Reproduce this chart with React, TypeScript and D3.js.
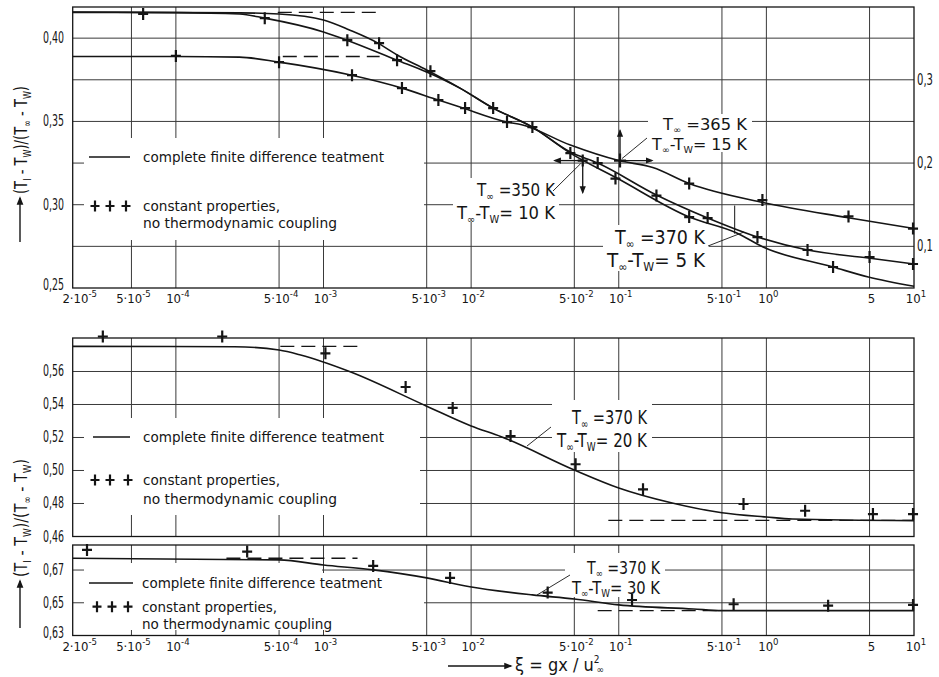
import React from 'react';
import * as d3 from 'd3';

const FONT = "'DejaVu Sans Condensed', 'Liberation Sans Narrow', 'DejaVu Sans', sans-serif";
const INK = '#151515';

// x axis: xi = g x / u_inf^2 (log)
const xTickVals = [2e-5, 5e-5, 1e-4, 5e-4, 1e-3, 5e-3, 1e-2, 5e-2, 1e-1, 5e-1, 1, 5, 10];
const xTickMant = ['2·10', '5·10', '10', '5·10', '10', '5·10', '10', '5·10', '10', '5·10', '10', '5', '10'];
const xTickExp = ['-5', '-5', '-4', '-4', '-3', '-3', '-2', '-2', '-1', '-1', '0', '', '1'];
const xGridVals = [5e-5, 1e-4, 5e-4, 1e-3, 5e-3, 1e-2, 5e-2, 1e-1, 5e-1, 1, 5];

// top panel: three cases
const topYTicks = [0.25, 0.30, 0.35, 0.40];
const topYGrid = [0.275, 0.30, 0.325, 0.35, 0.375, 0.40];
const topRightTicks = [0.1, 0.2, 0.3];
const topCurve365 = [[2e-5, 0.389], [1e-4, 0.389], [2.7e-4, 0.3886], [5e-4, 0.3856], [1.5e-3, 0.378], [3.4e-3, 0.370], [6e-3, 0.3628], [8.4e-3, 0.3586], [1.75e-2, 0.3496], [2.2e-2, 0.348], [4.7e-2, 0.3358], [0.1, 0.3265], [0.17, 0.3223], [0.3, 0.3127], [0.95, 0.3013], [3.5, 0.2923], [10, 0.2857]];
const topCurve350 = [[2e-5, 0.4157], [2.7e-4, 0.4152], [5e-4, 0.4145], [1e-3, 0.4109], [1.5e-3, 0.4049], [2.34e-3, 0.397], [3.15e-3, 0.3899], [5e-3, 0.3809], [8.4e-3, 0.370], [1.41e-2, 0.358], [2.6e-2, 0.3466], [4.7e-2, 0.3316], [7.2e-2, 0.325], [0.18, 0.3058], [0.4, 0.292], [0.87, 0.2806], [1.9, 0.2728], [4.9, 0.268], [10, 0.2644]];
const topCurve370 = [[2e-5, 0.4155], [1e-4, 0.4153], [2.7e-4, 0.4145], [4e-4, 0.412], [1e-3, 0.4037], [1.44e-3, 0.3988], [3.15e-3, 0.3868], [5e-3, 0.3797], [8.4e-3, 0.370], [1.41e-2, 0.358], [2.6e-2, 0.3466], [4.7e-2, 0.331], [9.7e-2, 0.316], [0.3, 0.2926], [0.63, 0.283], [0.95, 0.2746], [2.83, 0.2626], [4.9, 0.2566], [10, 0.251]];
const topDashes = [[4.9e-4, 2.4e-3, 0.4155], [5.3e-4, 2.4e-3, 0.389]];
const topMarks = [[6e-5, 0.4145], [4e-4, 0.412], [1e-4, 0.3893], [5e-4, 0.3856], [1.45e-3, 0.3988], [2.38e-3, 0.397], [3.15e-3, 0.3868], [5.3e-3, 0.3802], [1.56e-3, 0.3778], [3.4e-3, 0.370], [6e-3, 0.3628], [9.1e-3, 0.358], [1.41e-2, 0.358], [1.75e-2, 0.3496], [2.6e-2, 0.3466], [4.7e-2, 0.331], [7.2e-2, 0.325], [9.5e-2, 0.3157], [0.18, 0.3055], [0.3, 0.3127], [0.3, 0.2926], [0.4, 0.292], [0.94, 0.3028], [0.87, 0.2806], [1.9, 0.2728], [2.83, 0.2626], [3.6, 0.293], [5, 0.2686], [9.85, 0.2857], [9.85, 0.2644]];
const topArrowMarks = [[5.7e-2, 0.3265], [0.102, 0.3265]];
const topBar370 = [[0.61, 0.2995], [0.61, 0.2826]];

// middle panel: dT = 20 K
const midYTicks = [0.46, 0.48, 0.50, 0.52, 0.54, 0.56];
const midYGrid = [0.48, 0.50, 0.52, 0.54, 0.56];
const midCurve = [[2e-5, 0.5752], [2.5e-4, 0.575], [5e-4, 0.573], [7e-4, 0.570], [1.5e-3, 0.560], [5e-3, 0.539], [1e-2, 0.527], [1.6e-2, 0.5205], [5e-2, 0.5003], [0.1, 0.4894], [0.23, 0.4803], [0.5, 0.4744], [1, 0.4718], [1.5, 0.4706], [10, 0.4696]];
const midDashes = [[5.1e-4, 1.83e-3, 0.5752], [8.5e-2, 10, 0.4698]];
const midMarks = [[3.2e-5, 0.5812], [2.06e-4, 0.5812], [1.03e-3, 0.571], [3.6e-3, 0.5506], [7.5e-3, 0.5379], [1.85e-2, 0.5209], [5.1e-2, 0.5038], [0.146, 0.4886], [0.7, 0.4797], [1.83, 0.4756], [5.27, 0.4736], [9.85, 0.4736]];

// bottom panel: dT = 30 K
const botYTicks = [0.63, 0.65, 0.67];
const botYGrid = [0.65, 0.67];
const botCurve = [[2e-5, 0.6772], [5e-4, 0.6762], [1e-3, 0.6731], [2.17e-3, 0.6701], [5e-3, 0.6652], [9.8e-3, 0.6598], [2.6e-2, 0.6548], [5e-2, 0.6523], [0.1, 0.6487], [0.32, 0.6462], [0.5, 0.6452], [10, 0.6452]];
const botDashes = [[2.2e-4, 1.7e-3, 0.6772], [7.2e-2, 0.5, 0.6452]];
const botMarks = [[2.5e-5, 0.6823], [3.04e-4, 0.6813], [2.17e-3, 0.6725], [7.2e-3, 0.6652], [3.3e-2, 0.6562], [0.123, 0.6517], [0.6, 0.6491], [2.62, 0.6482], [9.85, 0.6487]];

// annotation texts
const annoTemps = ['365 K', '350 K', '370 K', '370 K', '370 K'];
const annoDeltas = ['15 K', '10 K', '5 K', '20 K', '30 K'];
const legendTexts = ['complete finite difference teatment', 'constant properties,', 'no thermodynamic coupling'];

const fmt2 = (v: number) => d3.format('.2f')(v).replace('.', ',');
const fmt1 = (v: number) => d3.format('.1f')(v).replace('.', ',');

function Plus({ cx, cy, s = 5 }: any) {
  return <path d={`M${cx - s},${cy}h${2 * s}M${cx},${cy - s - 1}v${2 * s + 2}`} stroke={INK} strokeWidth={2.2} fill="none" />;
}

function Legend({ lx0, lx1, ly, px, py, tx, l3, w }: any) {
  return (
    <g fontFamily={FONT} fontSize={14} fill={INK}>
      <line x1={lx0} x2={lx1} y1={ly} y2={ly} stroke={INK} strokeWidth={1.4} />
      <text x={tx} y={ly + 5} textLength={w[0]} lengthAdjust="spacingAndGlyphs">{legendTexts[0]}</text>
      {px.map((p: number, i: number) => <Plus key={i} cx={p} cy={py} s={4.5} />)}
      <text x={tx} y={py + 5} textLength={w[1]} lengthAdjust="spacingAndGlyphs">{legendTexts[1]}</text>
      <text x={tx} y={l3} textLength={w[2]} lengthAdjust="spacingAndGlyphs">{legendTexts[2]}</text>
    </g>
  );
}

function Anno({ i, x1, y1, w1, x2, y2, w2, fs }: any) {
  const sub = fs * 0.2;
  const sfs = fs * 0.6;
  return (
    <g fontFamily={FONT} fill={INK} fontSize={fs}>
      <text x={x1} y={y1} textLength={w1} lengthAdjust="spacingAndGlyphs">
        T<tspan dy={sub} fontSize={sfs}>∞</tspan><tspan dy={-sub}>{' =' + annoTemps[i]}</tspan>
      </text>
      <text x={x2} y={y2} textLength={w2} lengthAdjust="spacingAndGlyphs">
        T<tspan dy={sub} fontSize={sfs}>∞</tspan><tspan dy={-sub}>-T</tspan><tspan dy={sub} fontSize={sfs}>W</tspan><tspan dy={-sub}>{'= ' + annoDeltas[i]}</tspan>
      </text>
    </g>
  );
}

function YTitle({ tx, ty, len, a0, a1 }: any) {
  return (
    <g>
      <g transform={`translate(${tx},${ty}) rotate(-90)`}>
        <text x={0} y={0} fontFamily={FONT} fontSize={18} fill={INK} textLength={len} lengthAdjust="spacingAndGlyphs">
          (T<tspan dy={4} fontSize={11}>I</tspan><tspan dy={-4}> - T</tspan><tspan dy={4} fontSize={11}>W</tspan><tspan dy={-4}>)/(T</tspan><tspan dy={4} fontSize={11}>∞</tspan><tspan dy={-4}> - T</tspan><tspan dy={4} fontSize={11}>W</tspan><tspan dy={-4}>)</tspan>
        </text>
      </g>
      <line x1={tx - 7} x2={tx - 7} y1={a0} y2={a1} stroke={INK} strokeWidth={1.4} markerEnd="url(#ah)" />
    </g>
  );
}

export default function App() {
  const x = d3.scaleLog().domain([2e-5, 10]).range([72.7, 914]);
  const yTop = d3.scaleLinear().domain([0.25, 0.4187]).range([288, 7]);
  const yTopR = d3.scaleLinear().domain([0.05, 0.3874]).range([288, 7]);
  const yMid = d3.scaleLinear().domain([0.46, 0.5803]).range([536.5, 338]);
  const yBot = d3.scaleLinear().domain([0.63, 0.6853]).range([635.5, 545]);

  const panels = [
    { y: yTop, grid: topYGrid, ticks: topYTicks, curves: [topCurve365, topCurve350, topCurve370], marks: topMarks, dashes: topDashes },
    { y: yMid, grid: midYGrid, ticks: midYTicks, curves: [midCurve], marks: midMarks, dashes: midDashes },
    { y: yBot, grid: botYGrid, ticks: botYTicks, curves: [botCurve], marks: botMarks, dashes: botDashes },
  ];

  const [x0, x1] = x.range();

  // white patches where the original grid is interrupted by text
  const masks = [
    [84, 138, 340, 102], [84, 418, 336, 97], [84, 563, 238, 67], [322, 573, 102, 57],
    [648, 114, 104, 38], [453, 178, 106, 44], [603, 225, 106, 46], [552, 400, 100, 52], [565, 553, 100, 44],
  ];

  const a350 = { x: x(topArrowMarks[0][0]), y: yTop(topArrowMarks[0][1]) };
  const a365 = { x: x(topArrowMarks[1][0]), y: yTop(topArrowMarks[1][1]) };

  const xLabels = (base: number) => xTickVals.map((v, i) => (
    <text key={i} x={x(v) + (i === 0 ? 7 : 2)} y={base} textAnchor="middle" fontFamily={FONT} fontSize={13} fill={INK}>
      {xTickMant[i]}<tspan dy={-6} fontSize={9.5}>{xTickExp[i]}</tspan>
    </text>
  ));

  return (
    <svg width={939} height={677} style={{ position: 'absolute', left: 0, top: 0, background: '#fff' }}>
      <defs>
        <marker id="ah" viewBox="0 0 10 10" refX={8} refY={5} markerWidth={6} markerHeight={6} orient="auto">
          <path d="M0,1L10,5L0,9z" fill={INK} />
        </marker>
      </defs>
      <rect width={939} height={677} fill="#fff" />

      {/* grids and frames */}
      {panels.map((p, pi) => {
        const [yb, yt] = p.y.range();
        return (
          <g key={pi}>
            {xGridVals.map((v, i) => <line key={'v' + i} x1={x(v)} x2={x(v)} y1={yt} y2={yb} stroke="#3a3a3a" strokeWidth={1} />)}
            {p.grid.map((v, i) => <line key={'h' + i} x1={x0} x2={x1} y1={p.y(v)} y2={p.y(v)} stroke="#3a3a3a" strokeWidth={1} />)}
          </g>
        );
      })}
      {masks.map((m, i) => <rect key={i} x={m[0]} y={m[1]} width={m[2]} height={m[3]} fill="#fff" />)}
      {panels.map((p, pi) => {
        const [yb, yt] = p.y.range();
        return <rect key={pi} x={x0} y={yt} width={x1 - x0} height={yb - yt} fill="none" stroke={INK} strokeWidth={1.3} />;
      })}

      {/* curves, asymptotes, markers */}
      {panels.map((p, pi) => {
        const line = d3.line<number[]>().x(d => x(d[0])).y(d => p.y(d[1])).curve(d3.curveMonotoneX);
        return (
          <g key={pi}>
            {p.curves.map((c, i) => <path key={i} d={line(c) || ''} fill="none" stroke={INK} strokeWidth={1.6} />)}
            {p.dashes.map((d, i) => (
              <line key={'d' + i} x1={x(d[0])} x2={x(d[1])} y1={p.y(d[2])} y2={p.y(d[2])} stroke={INK} strokeWidth={1.4} strokeDasharray="14 7" />
            ))}
            {p.marks.map((m, i) => <Plus key={'m' + i} cx={x(m[0])} cy={p.y(m[1])} />)}
          </g>
        );
      })}

      {/* arrowed marks of the top panel */}
      <Plus cx={a350.x} cy={a350.y} />
      <line x1={a350.x} x2={a350.x - 28} y1={a350.y} y2={a350.y} stroke={INK} strokeWidth={1.3} markerEnd="url(#ah)" />
      <line x1={a350.x} x2={a350.x} y1={a350.y} y2={a350.y + 32} stroke={INK} strokeWidth={1.3} markerEnd="url(#ah)" />
      <Plus cx={a365.x} cy={a365.y} s={6} />
      <line x1={a365.x} x2={a365.x} y1={a365.y} y2={a365.y - 30} stroke={INK} strokeWidth={1.3} markerEnd="url(#ah)" />
      <line x1={a365.x} x2={a365.x + 32} y1={a365.y} y2={a365.y} stroke={INK} strokeWidth={1.3} markerEnd="url(#ah)" />
      <line x1={x(topBar370[0][0])} x2={x(topBar370[1][0])} y1={yTop(topBar370[0][1])} y2={yTop(topBar370[1][1])} stroke={INK} strokeWidth={1} />

      {/* leaders */}
      <g stroke={INK} strokeWidth={0.9}>
        <line x1={647} y1={138} x2={a365.x + 2} y2={a365.y - 2} />
        <line x1={553} y1={191} x2={a350.x - 2} y2={a350.y + 3} />
        <line x1={708} y1={246} x2={744} y2={232} />
        <line x1={527} y1={446} x2={551} y2={427} />
        <line x1={537} y1={595} x2={570} y2={575} />
      </g>

      {/* y tick labels */}
      {panels.map((p, pi) => (
        <g key={pi} fontFamily={FONT} fontSize={15} fill={INK}>
          {p.ticks.map((v, i) => (
            <text key={i} x={64} y={p.y(v) + (i === 0 && pi !== 1 ? 2 : 5)} textAnchor="end" textLength={21} lengthAdjust="spacingAndGlyphs">{fmt2(v)}</text>
          ))}
        </g>
      ))}
      <g fontFamily={FONT} fontSize={15} fill={INK}>
        {topRightTicks.map((v, i) => (
          <text key={i} x={917} y={yTopR(v) + 5} textLength={16} lengthAdjust="spacingAndGlyphs">{fmt1(v)}</text>
        ))}
      </g>

      {/* x tick labels */}
      {xLabels(303)}
      {xLabels(651)}

      {/* legends */}
      <Legend lx0={89} lx1={130} ly={157} px={[95, 110, 126]} py={206} tx={143} l3={228} w={[241, 137, 194]} />
      <Legend lx0={93} lx1={130} ly={437} px={[95, 110, 128]} py={480} tx={143} l3={504} w={[241, 137, 194]} />
      <Legend lx0={89} lx1={133} ly={583} px={[97, 112, 128]} py={606.7} tx={142} l3={629} w={[240, 135, 190]} />

      {/* annotations */}
      <Anno i={0} x1={663} y1={130} w1={84} x2={652} y2={150} w2={95} fs={15} />
      <Anno i={1} x1={477} y1={196} w1={78} x2={457} y2={219} w2={98} fs={18} />
      <Anno i={2} x1={615} y1={244} w1={90} x2={607} y2={267} w2={98} fs={19} />
      <Anno i={3} x1={572} y1={424} w1={75} x2={557} y2={447} w2={90} fs={19} />
      <Anno i={4} x1={587} y1={574} w1={73} x2={572} y2={594} w2={88} fs={17} />

      {/* axis titles */}
      <YTitle tx={27} ty={194} len={108} a0={242} a1={198} />
      <YTitle tx={27} ty={577} len={118} a0={628} a1={581} />
      <line x1={448} x2={511} y1={666} y2={666} stroke={INK} strokeWidth={1.4} markerEnd="url(#ah)" />
      <text x={515} y={671} fontFamily={FONT} fontSize={18} fill={INK}>
        ξ = gx / u<tspan dy={-8} fontSize={10}>2</tspan><tspan dx={-3} dy={10} fontSize={10}>∞</tspan>
      </text>
    </svg>
  );
}
